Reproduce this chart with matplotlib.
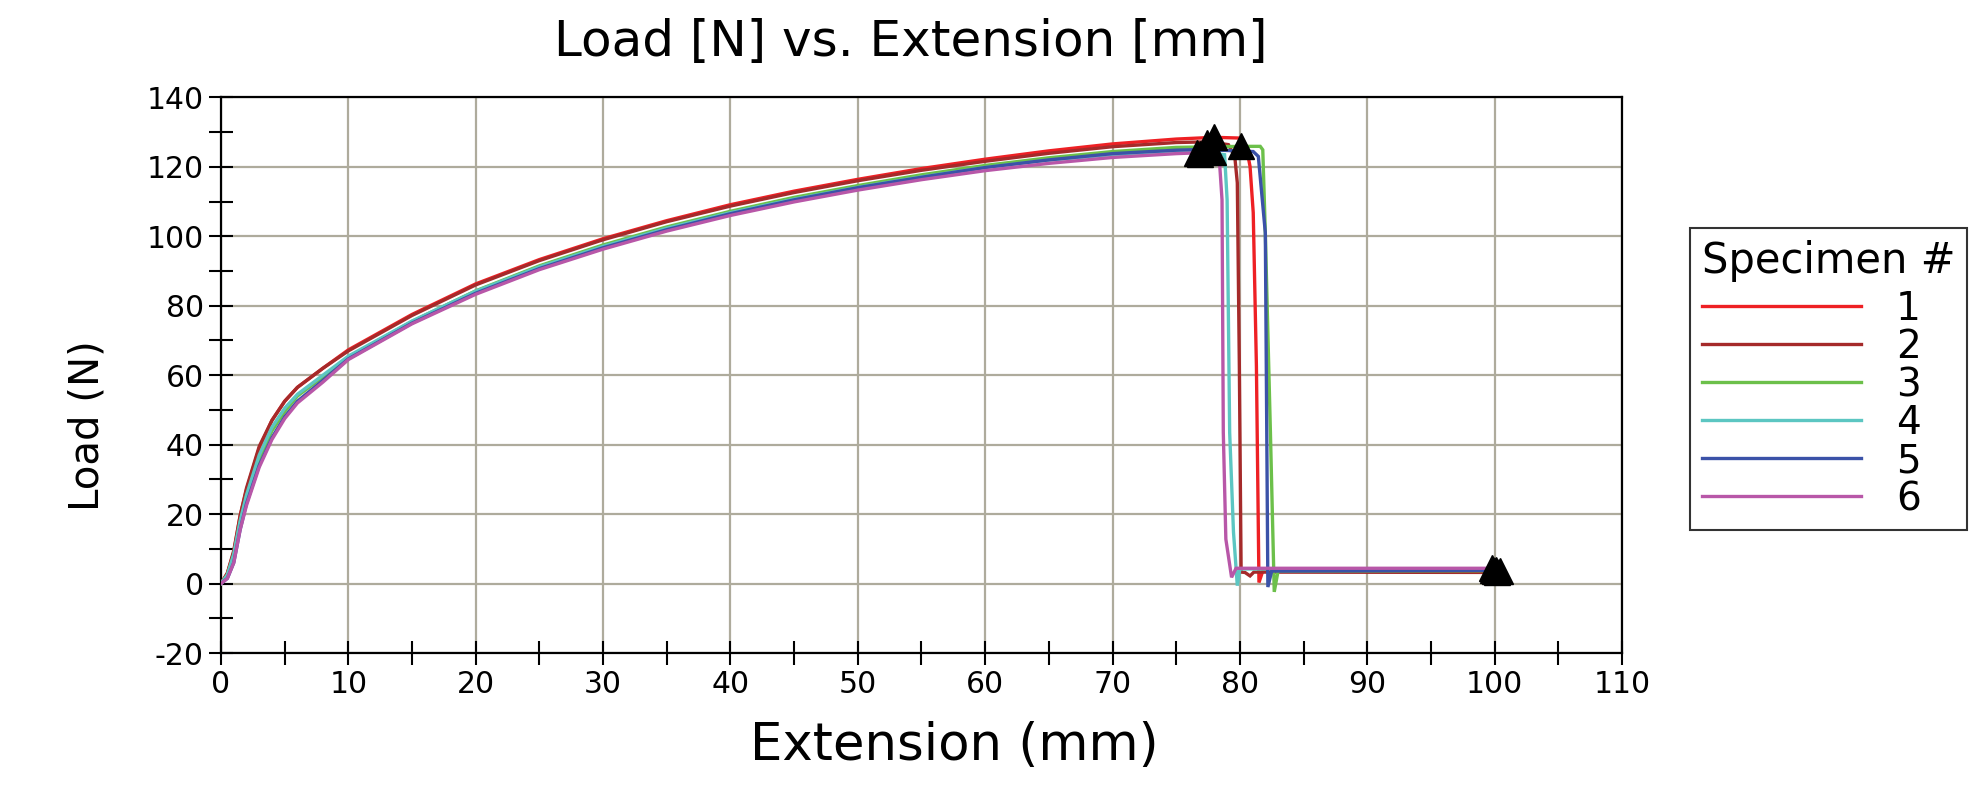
import matplotlib
matplotlib.use("Agg")
import matplotlib.pyplot as plt
from matplotlib.ticker import MultipleLocator

plt.rcParams['font.family'] = ['DejaVu Sans']
plt.rcParams['axes.unicode_minus'] = False

# ---------------- data ----------------
specimens = ["1", "2", "3", "4", "5", "6"]
colors = ["#ee2024", "#a52a2a", "#6cc04a", "#5cc6c2", "#3b52a8", "#b857a8"]

ext_pre = [0, 0.5, 1, 1.5, 2, 3, 4, 5, 6, 8, 10, 15, 20, 25, 30, 35, 40, 45, 50,
           55, 60, 65, 70, 75]

load_pre_1 = [0, 3, 9, 19.5, 27, 39, 47, 52.5, 56.5, 62, 67.3, 77.5, 86.3, 93.3,
              99.3, 104.5, 109.1, 113, 116.4, 119.5, 122.2, 124.6, 126.6, 128.0]
load_pre_2 = [0, 3, 9.5, 19.5, 27.5, 39.5, 47, 52.5, 56.5, 62, 67.0, 77.2, 86.0,
              93.0, 99.0, 104.2, 108.7, 112.6, 116.0, 119.0, 121.6, 123.9, 125.8, 127.0]
load_pre_3 = [0, 2.5, 8, 17.5, 25, 36, 44, 49.5, 54, 59.5, 65.2, 75.5, 84.3, 91.5,
              97.5, 102.7, 107.2, 111.2, 114.6, 117.7, 120.4, 122.6, 124.4, 125.6]
load_pre_4 = [0, 2.5, 8.5, 18, 25.5, 37, 45, 50.5, 54.5, 60, 65.5, 75.6, 84.2, 91.2,
              97.1, 102.3, 106.8, 110.7, 114.1, 117.1, 119.8, 121.9, 123.5, 124.3]
load_pre_5 = [0, 1.5, 6, 15.5, 23, 34, 42, 48, 52.5, 58.5, 64.7, 75.0, 83.6, 90.7,
              96.7, 101.9, 106.5, 110.5, 114.0, 117.0, 119.8, 122.0, 123.8, 124.8]
load_pre_6 = [0, 1.5, 6, 15.5, 22.5, 33.5, 41.5, 47.5, 52, 58, 64.5, 74.8, 83.3,
              90.4, 96.3, 101.5, 106.0, 109.9, 113.3, 116.3, 118.9, 121.0, 122.7, 123.8]

# failure (drop) portion of each curve
ext_post_1 = [78.0, 79.9, 80.5, 80.8, 81.05, 81.3, 81.5, 81.8, 100.0]
load_post_1 = [128.5, 128.3, 125.9, 120.1, 106.8, 62.6, 0.3, 3.6, 3.7]
ext_post_2 = [77.5, 79.1, 79.6, 79.8, 79.96, 80.1, 80.4, 80.8, 81.1, 100.2]
load_post_2 = [127.2, 126.4, 123.0, 115.4, 62.6, 3.3, 3.2, 2.2, 3.3, 3.2]
ext_post_3 = [80.1, 81.6, 81.8, 82.0, 82.4, 82.7, 83.0, 100.4]
load_post_3 = [125.9, 125.9, 124.9, 101.0, 43.5, -2.4, 3.6, 3.7]
ext_post_4 = [76.7, 78.8, 79.0, 79.2, 79.5, 79.8, 80.0, 99.9]
load_post_4 = [124.5, 123.5, 110.5, 43.5, 14.8, -0.6, 4.2, 4.0]
ext_post_5 = [77.0, 81.05, 81.45, 82.0, 82.2, 82.5, 100.1]
load_post_5 = [125.0, 124.4, 123.0, 101.0, -1.0, 3.6, 3.8]
ext_post_6 = [76.4, 78.4, 78.6, 78.7, 78.9, 79.35, 79.7, 99.8]
load_post_6 = [124.0, 121.5, 110.5, 43.5, 12.8, 1.8, 4.4, 4.4]

# peak markers
peak_ext = [78.0, 77.4, 80.1, 76.6, 77.9, 76.9]
peak_load = [128.5, 126.8, 125.9, 124.0, 124.3, 123.6]

pre_loads = [load_pre_1, load_pre_2, load_pre_3, load_pre_4, load_pre_5, load_pre_6]
post_exts = [ext_post_1, ext_post_2, ext_post_3, ext_post_4, ext_post_5, ext_post_6]
post_loads = [load_post_1, load_post_2, load_post_3, load_post_4, load_post_5, load_post_6]

x_ticks = list(range(0, 111, 10))
y_ticks = list(range(-20, 141, 20))

# ---------------- figure ----------------
fig = plt.figure(figsize=(19.84, 7.86), dpi=100)
ax = fig.add_axes([0.1114, 0.1692, 0.7061, 0.7069])

for i in range(6):
    xs = ext_pre + post_exts[i]
    ys = pre_loads[i] + post_loads[i]
    ax.plot(xs, ys, color=colors[i], lw=2.4, label=specimens[i], zorder=3,
            solid_joinstyle='miter')

for i in range(6):
    ax.plot([peak_ext[i]], [peak_load[i]], marker='^', ms=19, color='black',
            ls='none', zorder=5)
    ax.plot([post_exts[i][-1]], [post_loads[i][-1]], marker='^', ms=19,
            color='black', ls='none', zorder=5)

ax.set_xlim(0, 110)
ax.set_ylim(-20, 140)
ax.set_xticks(x_ticks)
ax.set_yticks(y_ticks)
ax.xaxis.set_minor_locator(MultipleLocator(5))
ax.yaxis.set_minor_locator(MultipleLocator(10))
ax.tick_params(which='both', direction='inout', length=17, width=1.5,
               color='black', labelsize=21.5, pad=4)
ax.grid(True, which='major', color='#aeab9c', lw=1.6, zorder=0)
ax.set_axisbelow(True)
for s in ax.spines.values():
    s.set_color('black')
    s.set_linewidth(1.6)

ax.set_xlabel("Extension (mm)", fontsize=37)
ax.set_ylabel("Load (N)", fontsize=29)
ax.xaxis.set_label_coords((954 - 221) / 1401, -(746 - 653) / 556)
ax.yaxis.set_label_coords(-(221 - 87) / 1401, (653 - 425) / 556)
ax.xaxis.label.set_va('center')
ax.yaxis.label.set_va('center')

fig.text(911 / 1984, 1 - 42 / 786, "Load [N] vs. Extension [mm]", fontsize=36,
         ha='center', va='center')

leg = fig.legend(loc='upper left', bbox_to_anchor=(1690 / 1984, 1 - 228 / 786),
                 bbox_transform=fig.transFigure, borderaxespad=0,
                 title="Specimen #", fontsize=28, title_fontsize=30,
                 handlelength=4.1, handletextpad=0.9, labelspacing=0.0,
                 borderpad=0.3, fancybox=False, edgecolor='black',
                 alignment='left')
leg.get_frame().set_linewidth(1.5)
leg._legend_box.sep = 6
for t in leg.get_texts():
    t.set_ha('center')

fig.savefig("out.png", dpi=100)
